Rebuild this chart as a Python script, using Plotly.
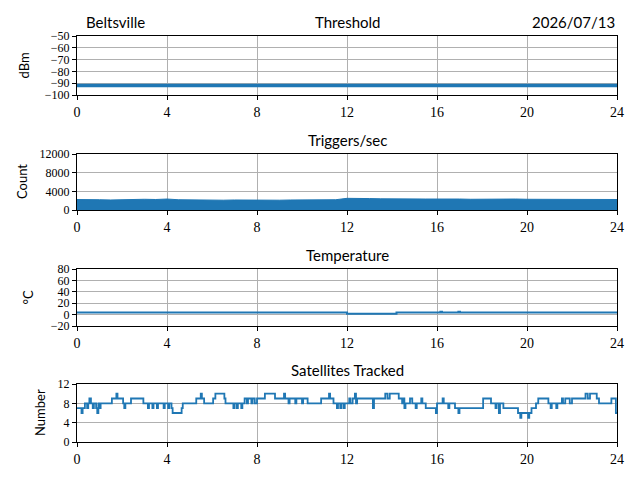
import plotly.graph_objects as go

# ---------------- data ----------------
hour_ticks = [0, 4, 8, 12, 16, 20, 24]

thr_hours = [0, 6, 12, 18, 24]
thr_dbm = [-92, -92, -92, -92, -92]

trig_hours = [i * 0.5 for i in range(49)]
trig_counts = [2250, 2150, 2200, 2150, 2250, 2200, 2300, 2250, 2350, 2200,
               2150, 2100, 2050, 2100, 2150, 2100, 2200, 2150, 2100, 2150,
               2200, 2150, 2250, 2200, 2500, 2550, 2450, 2400, 2350, 2350,
               2300, 2350, 2350, 2400, 2350, 2300, 2350, 2350, 2300, 2350,
               2300, 2300, 2250, 2300, 2250, 2250, 2200, 2250, 2250]

temp_hours = [0, 12.0, 14.2, 16.15, 16.22, 16.95, 17.02, 24]
temp_c = [3.5, 1.5, 3.5, 5.0, 3.5, 5.0, 3.5, 3.5]

sat_hours = [0, 0.2, 0.25, 0.35, 0.45, 0.5, 0.55, 0.62,
             0.7, 0.75, 0.85, 0.9, 0.95, 1.0, 1.05, 1.55,
             1.75, 1.8, 1.85, 2.05, 2.1, 2.15, 2.4, 2.95,
             3.15, 3.2, 3.35, 3.4, 3.55, 3.6, 3.85, 3.9,
             4.05, 4.1, 4.2, 4.25, 4.65, 4.7, 5.3, 5.5,
             5.55, 5.65, 6.05, 6.15, 6.45, 6.55, 6.6, 6.95,
             7.0, 7.1, 7.15, 7.3, 7.35, 7.45, 7.55, 7.6,
             7.75, 7.8, 7.9, 8.0, 8.35, 8.8, 9.2, 9.25,
             9.4, 9.45, 9.7, 9.75, 10.0, 10.05, 10.25, 10.85,
             11.2, 11.25, 11.4, 11.55, 11.6, 11.7, 11.75, 11.85,
             11.9, 12.1, 12.15, 12.25, 12.35, 12.4, 12.45, 13.15,
             13.2, 13.7, 13.8, 13.9, 14.3, 14.45, 14.5, 14.55,
             14.6, 14.8, 14.9, 15.05, 15.1, 15.3, 15.35, 15.5,
             15.95, 16.0, 16.25, 16.3, 16.5, 16.55, 16.8, 16.95,
             17.0, 18.05, 18.4, 18.6, 18.65, 18.75, 18.8, 18.95,
             19.6, 19.7, 19.75, 20.05, 20.1, 20.2, 20.4, 20.5,
             20.95, 21.05, 21.1, 21.3, 21.35, 21.55, 21.6, 21.7,
             21.9, 22.0, 22.6, 22.7, 22.8, 23.1, 23.2, 23.75,
             23.95, 24.0]
sat_count = [7, 6, 7, 8, 7, 8, 9, 8,
             7, 8, 7, 6, 8, 7, 8, 9,
             10, 9, 9, 8, 7, 8, 9, 8,
             7, 8, 7, 8, 7, 8, 7, 8,
             7, 8, 7, 6, 7, 8, 9, 10,
             9, 8, 9, 10, 10, 9, 8, 7,
             8, 7, 8, 7, 8, 9, 8, 9,
             8, 9, 8, 9, 10, 9, 10, 9,
             8, 9, 8, 9, 8, 9, 8, 9,
             10, 9, 8, 7, 8, 7, 8, 7,
             8, 9, 8, 9, 10, 8, 9, 7,
             9, 10, 9, 10, 9, 8, 9, 7,
             8, 9, 8, 7, 8, 9, 8, 7,
             6, 8, 9, 8, 7, 8, 7, 6,
             7, 9, 8, 7, 8, 6, 8, 7,
             6, 5, 6, 5, 6, 7, 8, 9,
             8, 7, 8, 7, 8, 9, 8, 9,
             8, 9, 10, 9, 10, 9, 8, 9,
             6, 6]

titles = ["Threshold", "Triggers/sec", "Temperature", "Satellites Tracked"]
y_titles = ["dBm", "Count", "°C", "Number"]
y_ranges = [[-100, -50], [0, 12000], [-20, 80], [0, 12]]
y_tickvals = [[-100, -90, -80, -70, -60, -50], [0, 4000, 8000, 12000],
              [-20, 0, 20, 40, 60, 80], [0, 4, 8, 12]]
station = "Beltsville"
date_label = "2026/07/13"

# ---------------- figure ----------------
BLUE = "#1f77b4"
OFF = 8  # page body margin
W, H = 640 - OFF, 480 - OFF
x_dom = [(77 - OFF) / W, (617 - OFF) / W]
panels_px = [(36, 95), (154, 210), (269, 326), (384, 442)]
y_doms = [[1 - (b - OFF) / H, 1 - (t - OFF) / H] for t, b in panels_px]
ytitle_shift = [54, 55, 50, 37]

fig = go.Figure()

fig.add_trace(go.Scatter(x=thr_hours, y=thr_dbm, mode="lines",
                         line=dict(color=BLUE, width=3.5), xaxis="x", yaxis="y"))
fig.add_trace(go.Scatter(x=trig_hours, y=trig_counts, mode="lines", fill="tozeroy",
                         fillcolor=BLUE, line=dict(color=BLUE, width=1),
                         xaxis="x2", yaxis="y2"))
fig.add_trace(go.Scatter(x=temp_hours, y=temp_c, mode="lines",
                         line=dict(color=BLUE, width=2, shape="hv"),
                         xaxis="x3", yaxis="y3"))
fig.add_trace(go.Scatter(x=sat_hours, y=sat_count, mode="lines",
                         line=dict(color=BLUE, width=1.8, shape="hv"),
                         xaxis="x4", yaxis="y4"))

serif = "Liberation Serif, DejaVu Serif, serif"
sans = "Lato, DejaVu Sans, sans-serif"
tick_font = dict(family=serif, size=12, color="black")
xtick_font = dict(family=serif, size=14, color="black")
label_font = dict(family=sans, size=13, color="black")
title_font = dict(family=sans, size=15, color="black")

layout = dict(width=W, height=H, showlegend=False,
              margin=dict(l=0, r=0, t=0, b=0),
              paper_bgcolor="white", plot_bgcolor="white")
annotations = []
for i in range(4):
    xa = "xaxis" if i == 0 else f"xaxis{i+1}"
    ya = "yaxis" if i == 0 else f"yaxis{i+1}"
    yref = "y" if i == 0 else f"y{i+1}"
    layout[xa] = dict(domain=x_dom, range=[0, 24], tickvals=hour_ticks,
                      anchor=yref, showline=True, mirror=True, linecolor="black",
                      linewidth=1, ticks="outside", ticklen=4, tickcolor="black",
                      showgrid=True, gridcolor="#b0b0b0", gridwidth=1,
                      zeroline=False, tickfont=xtick_font, automargin=False)
    layout[ya] = dict(domain=y_doms[i], range=y_ranges[i], tickvals=y_tickvals[i],
                      tickformat="d",
                      anchor="x" if i == 0 else f"x{i+1}",
                      showline=True, mirror=True, linecolor="black",
                      linewidth=1, ticks="outside", ticklen=4, tickcolor="black",
                      showgrid=True, gridcolor="#b0b0b0", gridwidth=1,
                      zeroline=False, tickfont=tick_font, automargin=False)
    annotations.append(dict(text=y_titles[i], x=x_dom[0], xshift=-ytitle_shift[i],
                            y=sum(y_doms[i]) / 2, xref="paper", yref="paper",
                            xanchor="center", yanchor="middle", textangle=-90,
                            showarrow=False, font=label_font))
    annotations.append(dict(text=titles[i], x=(x_dom[0] + x_dom[1]) / 2,
                            y=y_doms[i][1], xref="paper", yref="paper",
                            xanchor="center", yanchor="bottom", yshift=3,
                            showarrow=False, font=title_font))

annotations.append(dict(text=station, x=(84 - OFF) / W, y=y_doms[0][1], xref="paper",
                        yref="paper", xanchor="left", yanchor="bottom", yshift=3,
                        showarrow=False, font=title_font))
annotations.append(dict(text=date_label, x=x_dom[1], y=y_doms[0][1], xref="paper",
                        yref="paper", xanchor="right", yanchor="bottom", yshift=3,
                        showarrow=False, font=title_font))
layout["annotations"] = annotations
fig.update_layout(**layout)

fig.write_html("out.html")
